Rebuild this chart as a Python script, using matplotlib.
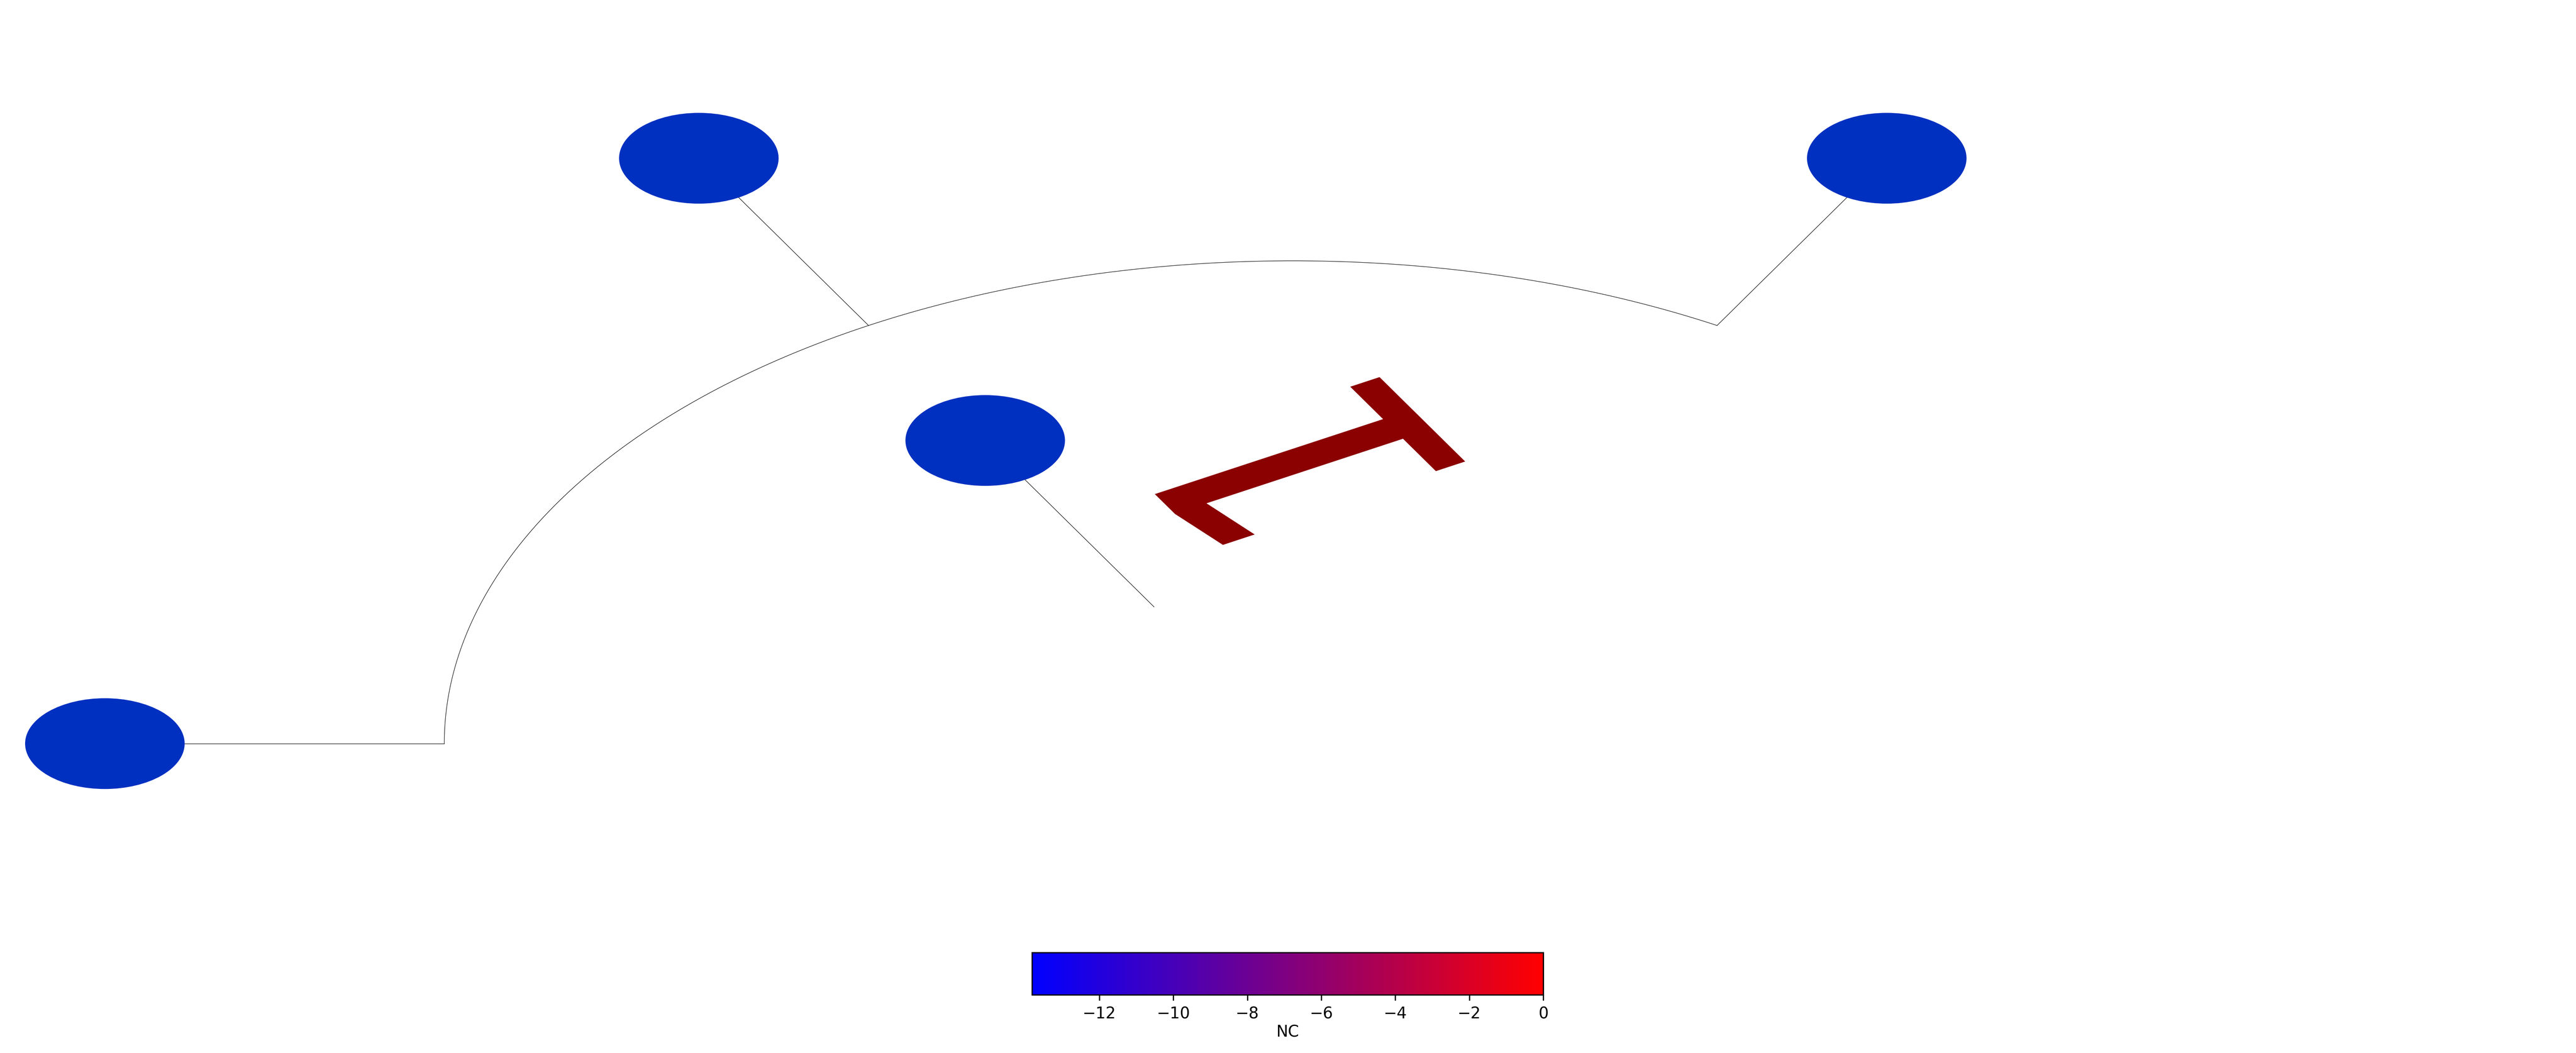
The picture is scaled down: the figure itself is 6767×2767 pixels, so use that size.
import numpy as np
import matplotlib
matplotlib.use("Agg")
import matplotlib.pyplot as plt
from matplotlib.patches import Circle, PathPatch
from matplotlib.textpath import TextPath
from matplotlib.font_manager import FontProperties
from matplotlib.transforms import Affine2D
from matplotlib.colors import LinearSegmentedColormap, Normalize
from matplotlib.cm import ScalarMappable

# ---------------- data ----------------
leaf_names = ["leaf_a", "leaf_b", "leaf_c", "leaf_d"]
leaf_angles = [180.0, 120.0, 60.0, 120.0]      # degrees
leaf_radii = [1.40, 1.40, 1.40, 0.725]          # radial position of each leaf
branch_start = [1.0, 1.0, 1.0, 0.327]           # radius where each leaf branch starts
arc_radius = 1.0
arc_span = [60.0, 180.0]
node_label = "1"
label_angle = 120.0
nc_min, nc_max = -13.82, 0.0
cbar_ticks = [-12, -10, -8, -6, -4, -2, 0]
cbar_label = "NC"

# ---------------- style / layout ----------------
W, H, DPI = 6767, 2767, 300
leaf_color = "#0030C0"
label_color = "#8B0000"
node_size = 0.094
label_height = 0.3505
label_anchor = (0.1676, 0.6459)
lw = 0.3

fig = plt.figure(figsize=(W / DPI, H / DPI), dpi=DPI)
ax = fig.add_axes([0, 0, 1, 1])
ax.set_xlim(-1.5236, 1.5123)
ax.set_ylim(-0.6408, 1.5402)
ax.axis("off")

# arc
th = np.radians(np.linspace(arc_span[0], arc_span[1], 600))
ax.plot(arc_radius * np.cos(th), arc_radius * np.sin(th), color="black", lw=lw, zorder=1)

# branches and leaves
for a, r1, r0 in zip(leaf_angles, leaf_radii, branch_start):
    t = np.radians(a)
    ax.plot([r0 * np.cos(t), r1 * np.cos(t)], [r0 * np.sin(t), r1 * np.sin(t)],
            color="black", lw=lw, zorder=1)
    ax.add_patch(Circle((r1 * np.cos(t), r1 * np.sin(t)), node_size,
                        facecolor=leaf_color, edgecolor="none", zorder=3))

# node label drawn in data coordinates
tp = TextPath((0, 0), node_label, size=1.0, prop=FontProperties(family="DejaVu Sans"))
v = tp.vertices
ymin, ymax = v[:, 1].min(), v[:, 1].max()
base = v[np.abs(v[:, 1] - ymin) < 1e-6]
cx = (base[:, 0].min() + base[:, 0].max()) / 2.0
k = label_height / (ymax - ymin)
tr = (Affine2D().translate(-cx, -ymin).scale(k).rotate_deg(label_angle)
      .translate(*label_anchor) + ax.transData)
ax.add_patch(PathPatch(tp, transform=tr, facecolor=label_color, edgecolor="none", lw=0, zorder=4))

# colorbar
cmap = LinearSegmentedColormap.from_list("br", ["blue", "red"])
cax = fig.add_axes([2711 / W, 1 - 2614 / H, (4054 - 2711) / W, (2614 - 2503) / H])
sm = ScalarMappable(norm=Normalize(vmin=nc_min, vmax=nc_max), cmap=cmap)
cb = fig.colorbar(sm, cax=cax, orientation="horizontal")
cb.set_ticks(cbar_ticks)
cb.set_label(cbar_label, labelpad=1.5)

fig.savefig("out.png", dpi=DPI)
